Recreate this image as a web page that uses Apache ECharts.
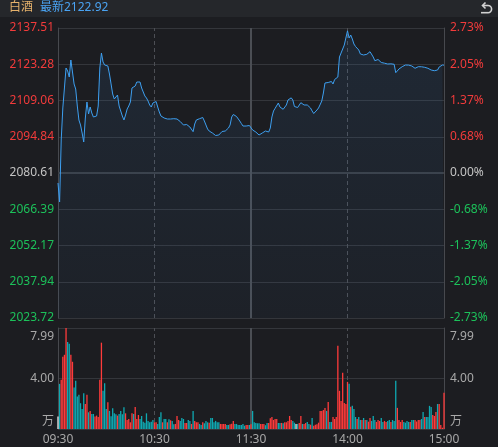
<!DOCTYPE html>
<html>
<head>
<meta charset="utf-8">
<title>白酒</title>
<style>
  html, body { margin: 0; padding: 0; background: #1c1d21; }
  #chart { width: 498px; height: 447px; }
</style>
</head>
<body>
<div id="chart"></div>
<script src="https://cdn.jsdelivr.net/npm/echarts@6/dist/echarts.min.js"></script>
<script>
// axis labels
const timeLabels = ['09:30', '10:30', '11:30', '14:00', '15:00']
const priceLabels = ['2023.72', '2037.94', '2052.17', '2066.39', '2080.61', '2094.84', '2109.06', '2123.28', '2137.51']
const pctLabels = ['-2.73%', '-2.05%', '-1.37%', '-0.68%', '0.00%', '0.68%', '1.37%', '2.05%', '2.73%']
const volLabels = ['万', '4.00', '7.99']

const prevClose = 2080.61
const priceMin = 2023.72
const priceMax = 2137.51
const volMax = 7.99
const lastPrice = '2122.92'

// one value per minute, 09:30 .. 11:30/13:00 .. 15:00
const prices = [
  2076.69, 2069.23, 2093.56, 2106.12, 2113.97, 2121.81, 2120.64, 2118.28, 2124.95, 2125.35,
  2115.54, 2113.57, 2106.90, 2101.41, 2099.45, 2096.31, 2092.78, 2102.19, 2108.47, 2103.76,
  2106.51, 2104.16, 2102.59, 2102.78, 2102.98, 2106.90, 2121.81, 2127.70, 2124.17, 2122.99,
  2122.21, 2122.60, 2119.46, 2115.54, 2111.61, 2109.65, 2109.26, 2111.22, 2106.90, 2104.94,
  2102.98, 2101.41, 2103.37, 2105.73, 2106.90, 2108.47, 2113.97, 2113.57, 2114.75, 2116.32,
  2116.71, 2116.32, 2113.97, 2112.40, 2110.83, 2110.04, 2108.86, 2107.30, 2106.51, 2108.08,
  2108.47, 2108.67, 2106.51, 2104.55, 2102.98, 2102.59, 2102.19, 2101.41, 2101.80, 2101.02,
  2101.80, 2102.00, 2101.92, 2101.90, 2101.80, 2101.61, 2100.82, 2100.74, 2099.45, 2099.84,
  2099.64, 2099.05, 2098.66, 2098.27, 2096.82, 2099.84, 2101.41, 2101.80, 2101.92, 2102.19,
  2102.39, 2101.02, 2099.45, 2097.88, 2097.09, 2096.70, 2096.31, 2095.72, 2095.33, 2094.93,
  2095.52, 2096.11, 2096.90, 2097.49, 2097.09, 2096.90, 2098.27, 2099.45, 2102.59, 2103.57,
  2103.17, 2102.78, 2102.00, 2101.02, 2100.04, 2099.05, 2098.78, 2099.05, 2099.10, 2099.25,
  2099.33, 2097.49, 2097.09, 2096.70, 2096.31, 2095.52, 2095.33, 2096.31, 2096.90, 2097.09,
  2096.90, 2096.70, 2098.27, 2102.59, 2104.94, 2106.00, 2105.33, 2108.08, 2106.51, 2105.92,
  2105.61, 2105.65, 2107.30, 2109.26, 2110.04, 2110.10, 2109.26, 2106.71, 2106.12, 2106.31,
  2106.90, 2108.20, 2107.49, 2107.30, 2107.69, 2107.30, 2106.90, 2106.12, 2104.94, 2103.96,
  2103.76, 2105.33, 2106.12, 2106.51, 2108.86, 2112.00, 2115.93, 2116.32, 2116.12, 2115.93,
  2116.52, 2115.54, 2117.30, 2117.69, 2118.28, 2126.13, 2127.70, 2129.27, 2130.84, 2131.62,
  2136.40, 2133.59, 2134.76, 2133.19, 2131.23, 2130.25, 2130.05, 2128.88, 2127.31, 2127.50,
  2126.92, 2127.03, 2127.19, 2127.70, 2128.21, 2127.50, 2126.13, 2124.68, 2124.95, 2125.15,
  2124.56, 2123.97, 2123.66, 2123.70, 2123.58, 2123.38, 2123.42, 2123.45, 2123.36, 2123.27,
  2119.97, 2120.64, 2121.42, 2122.01, 2122.32, 2122.60, 2122.99, 2123.02, 2122.95, 2122.79,
  2122.60, 2122.21, 2121.70, 2122.01, 2122.32, 2122.35, 2122.30, 2122.21, 2122.09, 2122.01,
  2121.70, 2121.42, 2121.03, 2120.83, 2120.75, 2120.83, 2121.03, 2122.21, 2122.79, 2122.99,
  2122.92
]

// volume in 万
const volumes = [
  0.98, 3.57, 3.89, 5.72, 5.87, 7.99, 6.88, 6.75, 5.87, 5.32,
  3.28, 3.81, 2.57, 2.70, 2.04, 1.59, 2.83, 1.98, 2.70, 1.32,
  1.43, 1.19, 1.19, 0.98, 1.06, 0.95, 3.89, 6.83, 3.02, 3.62,
  1.59, 2.12, 1.43, 1.01, 1.64, 1.24, 1.16, 1.06, 1.19, 1.43,
  1.16, 1.72, 1.24, 0.71, 0.79, 0.53, 1.24, 1.19, 1.75, 0.79,
  1.11, 0.79, 1.03, 0.58, 0.50, 1.24, 0.64, 0.53, 0.58, 0.71,
  0.53, 0.53, 0.40, 0.95, 1.32, 0.53, 0.79, 0.79, 0.53, 0.77,
  0.69, 0.64, 0.37, 0.40, 1.03, 0.71, 0.64, 0.87, 0.79, 0.48,
  0.48, 0.71, 0.64, 0.40, 1.43, 0.64, 0.53, 0.53, 0.40, 0.32,
  0.53, 0.45, 0.64, 0.53, 0.50, 0.87, 0.87, 0.53, 0.64, 0.53,
  0.53, 0.40, 0.40, 0.40, 0.40, 0.32, 0.32, 0.37, 0.42, 0.64,
  0.40, 0.40, 0.32, 0.32, 0.32, 0.40, 0.26, 0.32, 0.32, 0.32,
  0.37, 1.43, 0.53, 0.48, 0.45, 0.45, 0.40, 0.40, 0.40, 0.30,
  0.48, 0.48, 0.85, 0.95, 0.71, 0.79, 0.79, 0.48, 0.48, 0.48,
  0.45, 0.53, 0.53, 0.64, 1.03, 0.71, 0.64, 0.50, 0.40, 0.40,
  0.48, 1.03, 0.40, 0.40, 0.48, 0.56, 0.40, 0.34, 0.87, 0.25,
  0.34, 0.37, 0.50, 1.43, 1.43, 1.50, 1.67, 1.43, 2.14, 0.56,
  0.56, 0.95, 0.79, 0.95, 6.59, 3.02, 2.22, 4.45, 2.06, 1.98,
  3.73, 3.57, 1.77, 1.83, 1.59, 0.95, 0.79, 0.95, 0.71, 0.71,
  0.87, 0.71, 0.71, 0.58, 0.87, 0.64, 1.03, 0.71, 0.56, 0.71,
  0.64, 0.87, 0.56, 0.64, 0.56, 0.64, 0.71, 0.56, 0.71, 0.64,
  3.81, 1.67, 0.71, 0.56, 0.71, 0.56, 0.50, 0.64, 0.56, 0.56,
  0.71, 0.71, 0.71, 0.60, 0.71, 0.71, 0.79, 1.35, 0.95, 0.95,
  0.95, 1.83, 1.75, 1.11, 1.03, 1.35, 1.98, 1.98, 0.32, 0.10,
  2.86
]

// u = up (red), d = down (teal), w = flat
const volDir = (
  'wduuuudduu' + 'ddddddduud' + 'udduuuuudd' + 'dudddddudd' + 'dduuuuuduu' +
  'uddddddddd' + 'uuddduddud' + 'udduuudddu' + 'udduduuudd' + 'uddduddddd' +
  'duuuudduuu' + 'ddddddduud' + 'uddddduuud' + 'duuuuuuddu' + 'duuuuuddwd' +
  'uuduuddudu' + 'uuuuuuudud' + 'duuuuuuuuu' + 'ududdduddu' + 'duduuddduu' +
  'udduuddudd' + 'duuuuddddu' + 'dduuuuddud' + 'ddduuuduuu' + 'u'
).split('')

const RED = '#f23b3b'
const GREEN = '#1cc15a'
const TEAL = '#0fa9b2'
const GREY = '#c4c4c4'
const GRID_LINE = '#34363b'
const BORDER = '#47494e'
const FONT = '"Noto Sans", "Noto Sans CJK SC", sans-serif'

const dirColor = { u: '#ff3b3b', d: TEAL, w: '#eeeeee' }

const chart = echarts.init(document.getElementById('chart'))

const vLines = [
  { xAxis: 60, lineStyle: { color: '#4d4f55', type: [4, 3], width: 1 } },
  { xAxis: 120, lineStyle: { color: '#4b4e54', type: 'solid', width: 2 } },
  { xAxis: 180, lineStyle: { color: '#4d4f55', type: [4, 3], width: 1 } }
]

function labelColor(val) {
  const v = Number(val)
  if (v < 4) return GREEN
  if (v > 4) return RED
  return GREY
}

function volFormatter(val) {
  const k = Math.round(val / (volMax / 2))
  if (k === 0) return '{bot|' + volLabels[0] + '}'
  if (k === 2) return '{top|' + volLabels[2] + '}'
  return volLabels[k]
}

const volRich = {
  top: { padding: [18, 0, 0, 0], color: '#a9a9a9', fontSize: 12, fontFamily: FONT },
  bot: { padding: [0, 0, 14, 0], color: '#a9a9a9', fontSize: 12, fontFamily: FONT }
}

const iconStyle = { stroke: '#d2d2d2', lineWidth: 1.6, fill: null }

chart.setOption({
  backgroundColor: '#1c1d21',
  animation: false,
  textStyle: { fontFamily: FONT },
  graphic: [
    { type: 'rect', shape: { x: 0, y: 0, width: 498, height: 17 }, style: { fill: '#25272b' }, silent: true },
    { type: 'text', x: 9, y: 2, style: { text: '白酒', fill: '#e6b26c', fontSize: 12, fontFamily: FONT } },
    { type: 'text', x: 40, y: 2, style: { text: '最新' + lastPrice, fill: '#4aa3f2', fontSize: 12, fontFamily: FONT } },
    { type: 'polyline', shape: { points: [[483, 5.5], [488, 5.5]] }, style: iconStyle },
    { type: 'arc', shape: { cx: 488, cy: 9.1, r: 3.6, startAngle: -Math.PI / 2, endAngle: Math.PI / 2, clockwise: true }, style: iconStyle },
    { type: 'polyline', shape: { points: [[488, 12.7], [481, 12.7]] }, style: iconStyle },
    { type: 'polyline', shape: { points: [[485.5, 2.5], [482.5, 5.5], [485.5, 8.5]] }, style: iconStyle }
  ],
  grid: [
    { left: 58, right: 54, top: 28, height: 290 },
    { left: 58, right: 54, top: 328, height: 101 }
  ],
  xAxis: [
    { gridIndex: 0, type: 'value', min: 0, max: 240, interval: 60, show: false },
    {
      gridIndex: 1, type: 'value', min: 0, max: 240, interval: 60,
      axisLine: { show: false },
      axisTick: { show: false },
      splitLine: { show: false },
      axisLabel: {
        color: '#a9a9a9', fontSize: 12, margin: 5,
        formatter: (v) => timeLabels[Math.round(v / 60)]
      }
    }
  ],
  yAxis: [
    { gridIndex: 0, type: 'value', min: priceMin, max: priceMax, show: false },
    {
      gridIndex: 0, type: 'value', position: 'left', min: 0, max: 8, interval: 1,
      axisLine: { show: true, lineStyle: { color: BORDER } },
      axisTick: { show: false },
      splitLine: { show: true, lineStyle: { color: GRID_LINE, width: 1 } },
      axisLabel: { fontSize: 12, margin: 4, color: labelColor, formatter: (v) => priceLabels[v] }
    },
    {
      gridIndex: 0, type: 'value', position: 'right', min: 0, max: 8, interval: 1,
      axisLine: { show: true, lineStyle: { color: BORDER } },
      axisTick: { show: false },
      splitLine: { show: false },
      axisLabel: { fontSize: 12, margin: 6, color: labelColor, formatter: (v) => pctLabels[v] }
    },
    {
      gridIndex: 1, type: 'value', position: 'left', min: 0, max: volMax, interval: volMax / 2,
      axisLine: { show: true, lineStyle: { color: BORDER } },
      axisTick: { show: false },
      splitLine: { show: true, lineStyle: { color: GRID_LINE, width: 1 } },
      axisLabel: { fontSize: 12, margin: 4, color: '#a9a9a9', formatter: volFormatter, rich: volRich }
    },
    {
      gridIndex: 1, type: 'value', position: 'right', min: 0, max: volMax, interval: volMax / 2,
      axisLine: { show: true, lineStyle: { color: BORDER } },
      axisTick: { show: false },
      splitLine: { show: false },
      axisLabel: { fontSize: 12, margin: 6, color: '#a9a9a9', formatter: volFormatter, rich: volRich }
    }
  ],
  series: [
    {
      name: 'price',
      type: 'line',
      xAxisIndex: 0,
      yAxisIndex: 0,
      data: prices.map((p, i) => [i, p]),
      showSymbol: false,
      symbol: 'none',
      lineStyle: { color: '#3d9ff0', width: 1 },
      areaStyle: {
        color: new echarts.graphic.LinearGradient(0, 0, 0, 1, [
          { offset: 0, color: 'rgba(58, 127, 200, 0.17)' },
          { offset: 1, color: 'rgba(58, 127, 200, 0.06)' }
        ])
      },
      markLine: {
        silent: true,
        symbol: 'none',
        z: 1,
        label: { show: false },
        data: [{ yAxis: prevClose, lineStyle: { color: '#3b3e43', type: 'solid', width: 2 } }].concat(vLines)
      }
    },
    {
      name: 'volume',
      type: 'bar',
      xAxisIndex: 1,
      yAxisIndex: 3,
      barWidth: 1.3,
      data: volumes.map((v, i) => ({ value: [i, v], itemStyle: { color: dirColor[volDir[i]] } })),
      markLine: {
        silent: true,
        symbol: 'none',
        z: 1,
        label: { show: false },
        data: vLines
      }
    }
  ]
})
</script>
</body>
</html>
